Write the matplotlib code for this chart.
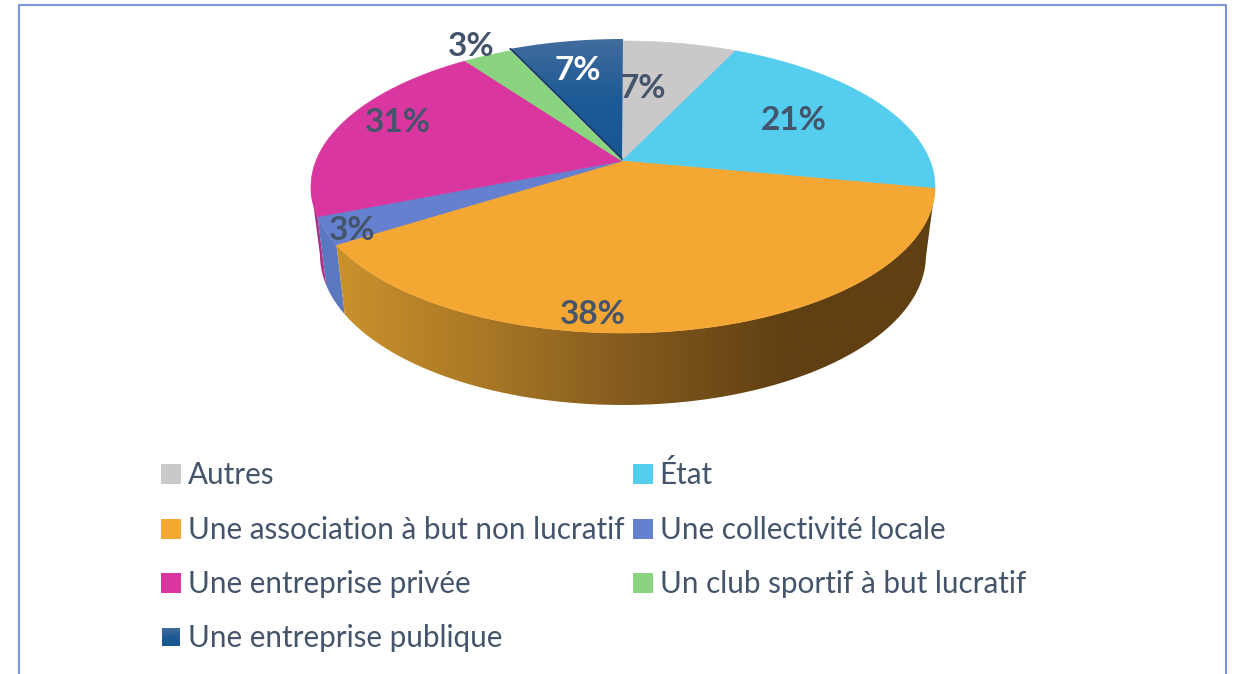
import numpy as np
import matplotlib
matplotlib.use("Agg")
import matplotlib.pyplot as plt
from matplotlib.colors import LinearSegmentedColormap
from matplotlib.patches import Polygon, Rectangle

plt.rcParams["font.family"] = ["Lato", "DejaVu Sans"]

# data
categories = ["Autres", "État", "Une association à but non lucratif", "Une collectivité locale",
              "Une entreprise privée", "Un club sportif à but lucratif", "Une entreprise publique"]
# slice sizes as drawn (the printed labels add up to 110 %, the slices do not)
shares = [7, 21, 38, 3, 21, 3, 7]
pct_labels = ["7%", "21%", "38%", "3%", "31%", "3%", "7%"]

# styles
face_colors = ["#CBC8C9", "#55CDEF", "#F5A733", "#6480CF", "#D9369F", "#8AD480", "#1D5A96"]
side_colors = {3: "#5B78BE", 4: "#B02F86"}
text_color = "#44546A"
frame_color = "#7F93DC"

label_pos = [(643, 88), (794, 120), (593, 314), (352, 230), (398, 123), (471, 47), (578, 71)]
legend_pos = [(161, 474), (633, 474), (161, 529), (633, 529), (161, 583), (633, 583), (161, 637)]

# pie geometry in pixels
top_ell = (623, 187, 312, 146)
bot_ell = (623, 255, 303, 150)
hub_shift = 0.178  # perspective moves the centre of the pie above the ellipse centre

W, H = 1235, 674


def rim(frac, ell):
    # point of the rim at a pie fraction, clockwise from the top
    t = 2 * np.pi * np.asarray(frac)
    x, y = np.sin(t), np.cos(t)
    d = 1 + hub_shift * y
    xp = x * np.sqrt(1 - hub_shift ** 2) / d
    yp = (y + hub_shift) / d
    return np.column_stack([ell[0] + ell[2] * xp, ell[1] - ell[3] * yp])


def gradient(ax, patch, stops, horizontal):
    cm = LinearSegmentedColormap.from_list("g", stops)
    ramp = np.linspace(0, 1, 256)
    ramp = ramp[None, :] if horizontal else ramp[:, None]
    pts = patch.get_xy()
    x0, x1, y0, y1 = pts[:, 0].min(), pts[:, 0].max(), pts[:, 1].min(), pts[:, 1].max()
    im = ax.imshow(ramp, cmap=cm, extent=[x0, x1, y1, y0], aspect="auto", zorder=patch.get_zorder())
    ax.add_patch(patch)
    patch.set_facecolor("none")
    patch.set_edgecolor("none")
    im.set_clip_path(patch)


fig = plt.figure(figsize=(W / 100, H / 100), dpi=100)
ax = fig.add_axes([0, 0, 1, 1])

edges = np.cumsum([0] + shares) / 100
hub = np.array([top_ell[0] - 1, top_ell[1] - top_ell[3] * hub_shift])
# where the rim is widest on the left, the side is hidden past this
silhouette = 1 - np.arccos(-hub_shift) / (2 * np.pi)

# sides, only the ones facing the viewer
for i in [4, 3, 2]:
    start = edges[i]
    stop = min(edges[i + 1], silhouette)
    fr = np.linspace(start, stop, 80)
    side = Polygon(np.vstack([rim(fr, top_ell), rim(fr[::-1], bot_ell)]), closed=True, zorder=2)
    if i == 2:
        gradient(ax, side, ["#CB912C", "#A87826", "#82591E", "#604012", "#604012"], True)
    else:
        side.set_facecolor(side_colors[i])
        side.set_edgecolor("none")
        ax.add_patch(side)

# top faces
for i in range(len(shares)):
    fr = np.linspace(edges[i], edges[i + 1], 120)
    pts = np.vstack([hub, rim(fr, top_ell)])
    if i == 6:
        pts = pts + np.array([0, -2])
        face = Polygon(pts, closed=True, zorder=3)
        gradient(ax, face, ["#426C9C", "#1D5A96", "#195791"], False)
        # dark edge on the left side of the pulled out slice
        ax.plot(pts[:2, 0], pts[:2, 1], color="#16385F", lw=1.2, zorder=3.1)
    else:
        ax.add_patch(Polygon(pts, closed=True, facecolor=face_colors[i], edgecolor=face_colors[i],
                             lw=0.5, zorder=3))

# percentage labels
for i, lab in enumerate(pct_labels):
    col = "white" if i == 6 else text_color
    ax.text(label_pos[i][0], label_pos[i][1], lab, color=col, fontsize=24, fontweight="bold",
            ha="center", va="center", zorder=5)

# legend
for i, name in enumerate(categories):
    x, y = legend_pos[i]
    if i == 6:
        box = Polygon([(x + 1, y - 9), (x + 19, y - 9), (x + 19, y + 9), (x + 1, y + 9)], closed=True, zorder=3)
        gradient(ax, box, ["#426C9C", "#1D5A96", "#195791"], False)
    else:
        ax.add_patch(Rectangle((x, y - 10), 20, 20, facecolor=face_colors[i], edgecolor="none", zorder=3))
    ax.text(x + 26.5, y + 1, name, color=text_color, fontsize=21.3, ha="left", va="center", zorder=5)

# frame, open at the bottom
ax.plot([19, 19, 1226, 1226], [H, 5, 5, H], color=frame_color, lw=1.5, zorder=1)

ax.set_xlim(0, W)
ax.set_ylim(H, 0)
ax.axis("off")

fig.savefig("out.png", dpi=100)
